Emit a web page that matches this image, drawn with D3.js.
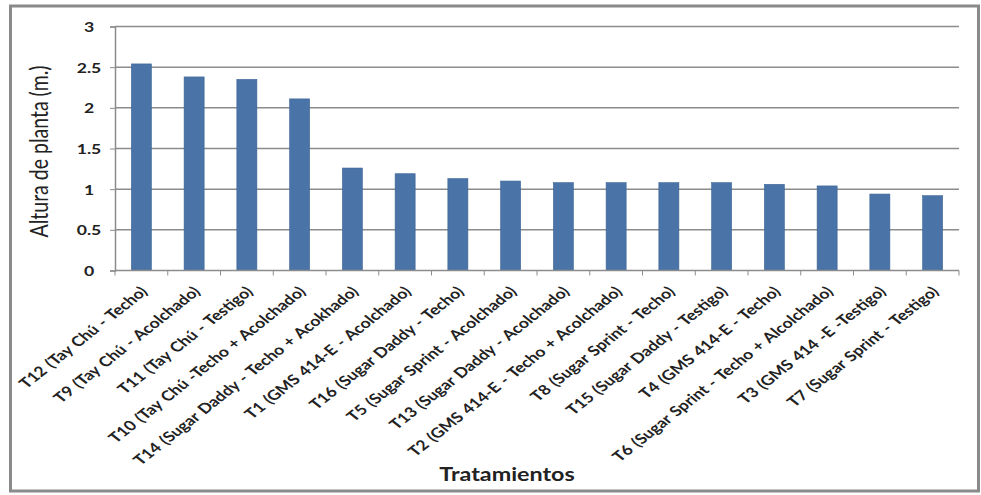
<!DOCTYPE html>
<html>
<head>
<meta charset="utf-8">
<script src="https://cdn.jsdelivr.net/npm/d3@7"></script>
<style>
  body { margin: 0; background: #fff; }
  text { font-family: Lato, "Open Sans", sans-serif; fill: #222; }
</style>
</head>
<body>
<div id="canvas"></div>
<script>
"use strict";

// Data
let treatments = [
    "T12 (Tay Chú - Techo)",
    "T9 (Tay Chú - Acolchado)",
    "T11 (Tay Chú - Testigo)",
    "T10 (Tay Chú -Techo + Acolchado)",
    "T14 (Sugar Daddy - Techo + Acokhado)",
    "T1 (GMS 414-E - Acolchado)",
    "T16 (Sugar Daddy - Techo)",
    "T5 (Sugar Sprint - Acolchado)",
    "T13 (Sugar Daddy - Acolchado)",
    "T2 (GMS 414-E - Techo + Acolchado)",
    "T8 (Sugar Sprint - Techo)",
    "T15 (Sugar Daddy - Testigo)",
    "T4 (GMS 414-E - Techo)",
    "T6 (Sugar Sprint - Techo + Alcolchado)",
    "T3 (GMS 414 -E -Testigo)",
    "T7 (Sugar Sprint - Testigo)"
];
let heights = [2.54, 2.38, 2.35, 2.11, 1.26, 1.19, 1.13, 1.10, 1.08, 1.08, 1.08, 1.08, 1.06, 1.04, 0.94, 0.92];
let yTicks = [0, 0.5, 1, 1.5, 2, 2.5, 3];

let svgWidth = 981;
let svgHeight = 495;

let plotLeft = 115;
let plotRight = 959;
let plotTop = 26.5;
let plotBottom = 270.5;

// the picture is stretched sideways, so text is too
let stretch = 1.26;

let svg = d3.select("#canvas")
    .append("svg")
    .attr("width", svgWidth)
    .attr("height", svgHeight);

// outer frame
svg.append("rect")
    .attr("x", 10.5)
    .attr("y", 6)
    .attr("width", 968)
    .attr("height", 485)
    .attr("fill", "#fff")
    .attr("stroke", "#8a8a8a")
    .attr("stroke-width", 3);

// Scales
let xScale = d3.scaleBand()
    .domain(treatments)
    .range([plotLeft, plotRight])
    .paddingInner(0.62)
    .paddingOuter(0.31);

let yScale = d3.scaleLinear()
    .domain([0, 3])
    .range([plotBottom, plotTop]);

// gridlines
svg.append("g")
    .selectAll("line")
    .data(yTicks.filter(d => d > 0))
    .join("line")
    .attr("x1", plotLeft)
    .attr("x2", plotRight)
    .attr("y1", d => yScale(d))
    .attr("y2", d => yScale(d))
    .attr("stroke", "#8c8c8c")
    .attr("stroke-width", 1.5);

// Bars
svg.append("g")
    .selectAll("rect")
    .data(heights)
    .join("rect")
    .attr("x", (d, i) => xScale(treatments[i]))
    .attr("y", d => yScale(d))
    .attr("width", xScale.bandwidth())
    .attr("height", d => plotBottom - yScale(d))
    .attr("fill", "#4a73a7")
    .attr("stroke", "#3f6797")
    .attr("stroke-width", 0.6);

// Y axis
let yAxis = svg.append("g")
    .attr("transform", `translate(${plotLeft}, 0)`)
    .call(d3.axisLeft(yScale).tickValues(yTicks).tickSize(5).tickFormat(d3.format("")));
yAxis.select(".domain").attr("stroke", "#8c8c8c").attr("stroke-width", 1.5);
yAxis.selectAll(".tick line").attr("stroke", "#8c8c8c");
yAxis.selectAll(".tick text")
    .attr("x", null)
    .attr("dy", "0.35em")
    .attr("text-anchor", "middle")
    .attr("transform", `translate(-26, 0) scale(${stretch}, 1)`)
    .attr("font-size", 14)
    .attr("font-weight", "bold")
    .attr("font-family", "Lato, sans-serif")
    .attr("fill", "#333");

// X axis: boundary tick marks
let xAxis = svg.append("g")
    .attr("transform", `translate(0, ${plotBottom})`);
xAxis.append("line")
    .attr("x1", plotLeft)
    .attr("x2", plotRight)
    .attr("stroke", "#8c8c8c")
    .attr("stroke-width", 1.5);
let step = xScale.step();
xAxis.selectAll("line.tk")
    .data(d3.range(treatments.length + 1))
    .join("line")
    .attr("class", "tk")
    .attr("x1", i => plotLeft + i * step)
    .attr("x2", i => plotLeft + i * step)
    .attr("y1", 0)
    .attr("y2", 5)
    .attr("stroke", "#8c8c8c");

// category labels rotated, inside a sideways-stretched group
svg.append("g")
    .attr("transform", `scale(${stretch}, 1)`)
    .selectAll("text")
    .data(treatments)
    .join("text")
    .attr("transform", d => `translate(${(xScale(d) + xScale.bandwidth() / 2 + 7) / stretch}, ${plotBottom + 22}) rotate(-45)`)
    .attr("text-anchor", "end")
    .attr("font-size", 14)
    .attr("word-spacing", 1)
    .attr("font-weight", "bold")
    .attr("fill", "#333")
    .text(d => d);

// Axis titles
svg.append("text")
    .attr("transform", `translate(48, ${(plotTop + plotBottom) / 2 + 3}) rotate(-90) scale(1, ${stretch})`)
    .attr("text-anchor", "middle")
    .attr("font-size", 19.5)
    .text("Altura de planta (m.)");

svg.append("text")
    .attr("transform", `translate(507, 481) scale(${stretch}, 1)`)
    .attr("text-anchor", "middle")
    .attr("font-size", 18.5)
    .attr("font-weight", "bold")
    .text("Tratamientos");
</script>
</body>
</html>
